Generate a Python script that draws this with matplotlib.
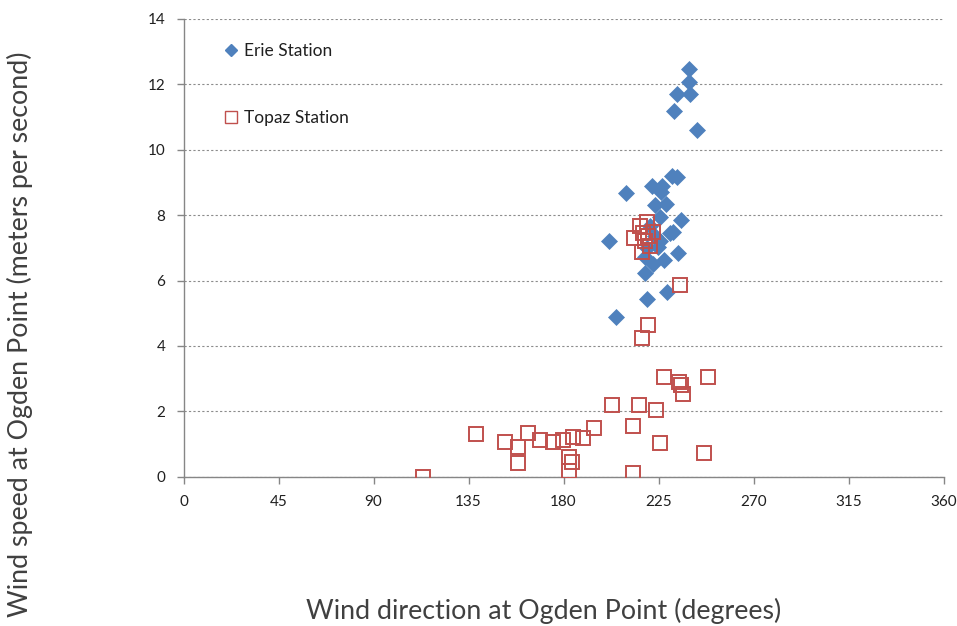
import matplotlib
matplotlib.use("Agg")
import matplotlib.pyplot as plt
from matplotlib.lines import Line2D

plt.rcParams['font.family'] = ['Lato', 'DejaVu Sans']

erie_dir = [239.5, 239.5, 239.9, 233.8, 232.4, 243.2,
            209.6, 221.8, 226.5, 231.3, 233.9, 226.1, 223.3, 228.6, 235.5, 225.7,
            230.5, 232.0, 201.7, 224.9, 234.4, 227.6, 218.6, 222.5, 218.6, 228.9,
            219.4, 204.9, 220.8, 223.2, 225.7, 219.6]
erie_speed = [12.47, 12.07, 11.70, 11.70, 11.18, 10.60,
              8.69, 8.88, 8.90, 9.18, 9.16, 8.71, 8.31, 8.33, 7.85, 7.95,
              7.44, 7.49, 7.21, 7.03, 6.83, 6.64, 6.72, 6.52, 6.23, 5.65,
              5.45, 4.88, 7.67, 7.37, 7.21, 6.99]

topaz_dir = [219.6, 216.3, 222.4, 213.4, 217.6, 218.6, 217.2, 220.9, 220.0, 235.0,
             113.3, 138.4, 152.3, 158.3, 158.3, 163.3, 168.9, 175.2, 179.9, 184.7,
             189.1, 194.6, 182.8, 183.9, 182.8, 202.8, 213.1, 213.1, 215.8, 223.7,
             225.7, 227.8, 234.9, 235.5, 236.5, 248.6, 246.7, 219.9, 217.1]
topaz_speed = [7.80, 7.68, 7.47, 7.31, 7.46, 7.22, 6.86, 7.04, 7.37, 5.86,
               0.00, 1.30, 1.05, 0.92, 0.41, 1.33, 1.12, 1.05, 1.12, 1.22,
               1.19, 1.50, 0.61, 0.46, 0.19, 2.21, 1.55, 0.11, 2.21, 2.04,
               1.03, 3.05, 2.91, 2.81, 2.52, 3.05, 0.72, 4.64, 4.23]

x_ticks = [0, 45, 90, 135, 180, 225, 270, 315, 360]
y_ticks = [0, 2, 4, 6, 8, 10, 12, 14]

BLUE = '#4F81BD'
RED = '#C0504D'
GRAY = '#868686'
TXT = '#404040'

W, H = 957, 626
fig = plt.figure(figsize=(W / 100, H / 100), dpi=100)
ax = fig.add_axes([183.5 / W, 1 - 476.8 / H, (943.5 - 183.5) / W, (476.8 - 18.8) / H])

ax.plot(erie_dir, erie_speed, linestyle='none', marker='D', markersize=8.0,
        color=BLUE, markeredgecolor=BLUE, markeredgewidth=0.5, zorder=3)
ax.plot(topaz_dir, topaz_speed, linestyle='none', marker='s', markersize=9.6,
        markerfacecolor='none', markeredgecolor=RED, markeredgewidth=1.4, zorder=4)

ax.set_xlim(0, 360)
ax.set_ylim(0, 14)
ax.set_xticks(x_ticks)
ax.set_yticks(y_ticks)
ax.yaxis.grid(True, linestyle=(0, (2, 2)), color='#8c8c8c', linewidth=0.8)
ax.set_axisbelow(True)
for s in ['top', 'right']:
    ax.spines[s].set_visible(False)
for s in ['left', 'bottom']:
    ax.spines[s].set_color(GRAY)
    ax.spines[s].set_linewidth(1.0)
ax.tick_params(axis='both', direction='out', length=5, width=1.0, color=GRAY,
               labelsize=11, labelcolor='#202020')
ax.tick_params(axis='x', pad=8)
ax.tick_params(axis='y', pad=8)

handles = [Line2D([], [], linestyle='none', marker='D', markersize=6, color=BLUE),
           Line2D([], [], linestyle='none', marker='s', markersize=8,
                  markerfacecolor='none', markeredgecolor=RED, markeredgewidth=1.0)]
leg = ax.legend(handles, ['Erie Station', 'Topaz Station'], loc='upper left',
                bbox_to_anchor=(0.035, 0.982), frameon=False, fontsize=12.5,
                labelspacing=2.98, handlelength=0.6, handletextpad=0.45)
for t in leg.get_texts():
    t.set_color('#202020')

fig.text(544 / W, 1 - 611 / H, 'Wind direction at Ogden Point (degrees)',
         ha='center', va='center', fontsize=19.3, color=TXT)
fig.text(20 / W, 1 - 334 / H, 'Wind speed at Ogden Point (meters per second)',
         ha='center', va='center', rotation=90, fontsize=19.3, color=TXT)

fig.savefig('out.png', dpi=100)
